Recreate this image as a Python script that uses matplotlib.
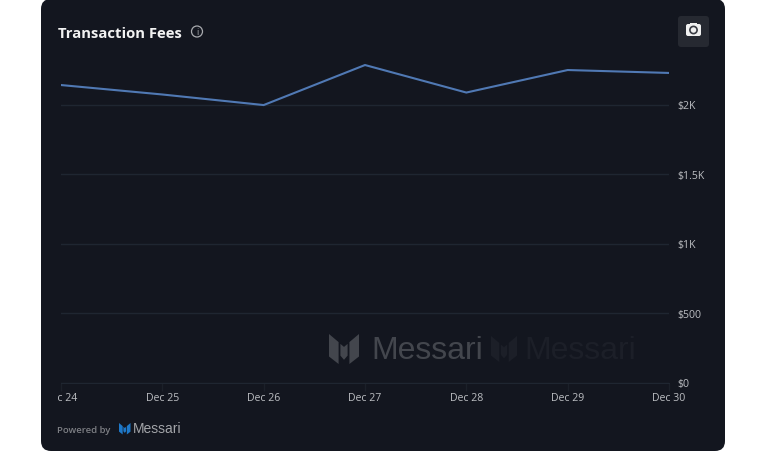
import matplotlib
matplotlib.use("Agg")
import matplotlib.pyplot as plt
from matplotlib.patches import FancyBboxPatch, Circle, Polygon, Rectangle

plt.rcParams['font.family'] = ['Open Sans', 'DejaVu Sans']

days = ['Dec 24', 'Dec 25', 'Dec 26', 'Dec 27', 'Dec 28', 'Dec 29', 'Dec 30']
fees = [2140, 2072, 1996, 2284, 2086, 2248, 2227]
y_ticks = [0, 500, 1000, 1500, 2000]
y_labels = ['$0', '$500', '$1K', '$1.5K', '$2K']

W, H = 765, 452
CARD = '#13161f'
GRID = '#1f2631'
TXT = '#bcbec2'

fig = plt.figure(figsize=(W / 100, H / 100), dpi=100, facecolor='white')

# overlay in pixel coordinates for the card and the decorations
bg = fig.add_axes([0, 0, 1, 1])
bg.set_xlim(0, W)
bg.set_ylim(H, 0)
bg.axis('off')
bg.add_patch(FancyBboxPatch((41, 0), 684, 452, boxstyle='round,pad=0,rounding_size=10',
                            fc=CARD, ec='none'))

# camera button
bg.add_patch(FancyBboxPatch((678, 17), 31, 31, boxstyle='round,pad=0,rounding_size=3',
                            fc='#262931', ec='none'))
bg.add_patch(FancyBboxPatch((686, 25), 15, 12, boxstyle='round,pad=0,rounding_size=2',
                            fc='#f0f0f0', ec='none'))
bg.add_patch(Rectangle((690, 23.5), 7, 2, fc='#f0f0f0', ec='none'))
bg.add_patch(Circle((693.5, 31), 3.6, fc='#f0f0f0', ec='#3a3c44', lw=1.2))

# info icon
bg.add_patch(Circle((197, 32.5), 5.5, fc='none', ec='#a8aaae', lw=0.9))
bg.text(197, 32.7, 'i', color='#a8aaae', fontsize=6.5, ha='center', va='center')


def logo(x, y, s, color, alpha=1.0):
    # the three-fold Messari mark, s is the height in pixels
    parts = [
        [(0, 0), (0.32, 0.27), (0.32, 1.0), (0, 0.75)],
        [(0.38, 0.33), (0.5, 0.43), (0.62, 0.33), (0.62, 0.72), (0.5, 0.86), (0.38, 0.72)],
        [(0.68, 0.27), (1.0, 0), (1.0, 0.75), (0.68, 1.0)],
    ]
    for p in parts:
        pts = [(x + px * s, y + py * s) for px, py in p]
        bg.add_patch(Polygon(pts, closed=True, fc=color, ec='none', alpha=alpha))


logo(329, 335, 30, '#43464d')
bg.text(371, 351.5, 'Messari', color='#43464d', fontsize=23, family='Liberation Sans',
        va='center', ha='left')
logo(491, 337, 26, '#1c1f28')
bg.text(524, 351.5, 'Messari', color='#1c1f28', fontsize=23, family='Liberation Sans',
        va='center', ha='left')

# footer
bg.text(57.5, 431, 'Powered by', color='#7d7f84', fontsize=6.8, weight='semibold', va='center')
logo(119, 424, 11.5, '#1e78c8')
bg.text(133, 429.5, 'Messari', color='#a3a5a9', fontsize=10, family='Liberation Sans', va='center')

bg.text(58, 34, 'Transaction Fees', color='#f2f2f2', fontsize=10.7, weight='bold', va='center')

# chart
x0, x1, y0, y1 = 61, 669, 383.5, 50
ax = fig.add_axes([x0 / W, 1 - y0 / H, (x1 - x0) / W, (y0 - y1) / H])
ax.patch.set_alpha(0)
ax.set_xlim(0, len(days) - 1)
ax.set_ylim(0, (y0 - y1) / 0.139)
ax.plot(range(len(days)), fees, color='#5079b4', lw=1.5, solid_joinstyle='miter')

ax.set_yticks(y_ticks)
ax.set_yticklabels(y_labels)
ax.yaxis.tick_right()
ax.grid(axis='y', color=GRID, lw=1)
ax.set_axisbelow(True)
ax.tick_params(axis='y', length=0, pad=6, labelsize=7.6, labelcolor=TXT)

ax.set_xticks(range(len(days)))
ax.set_xticklabels(days)
ax.tick_params(axis='x', length=6, width=1, color='#1b2029', pad=1.2, labelsize=7.6, labelcolor=TXT)
for side in ['top', 'right', 'left']:
    ax.spines[side].set_visible(False)
ax.spines['bottom'].set_color(GRID)

# first date label runs off the plot area on the left in the original
clip = Rectangle((58, 0), 700, H, transform=bg.transData)
ax.get_xticklabels()[0].set_clip_path(clip)
ax.get_xticklabels()[0].set_clip_on(True)

fig.savefig('out.png', dpi=100, facecolor='white')
